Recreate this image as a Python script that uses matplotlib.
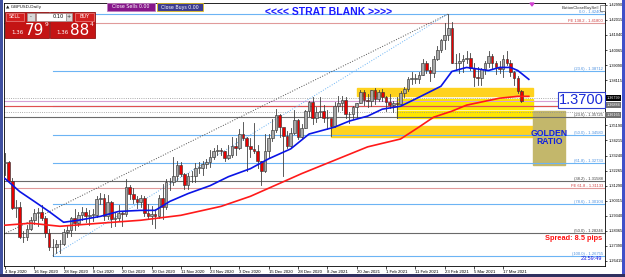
import matplotlib.pyplot as plt
from matplotlib.patches import Rectangle

W, H = 625, 277

# GBPUSD daily, 4 Sep 2020 .. 24 Mar 2021 (bar index 0..141)
closes = [1.3280, 1.3160, 1.2985, 1.2990, 1.2795, 1.2795, 1.2850, 1.2905, 1.2950, 1.2960,
          1.2920, 1.2820, 1.2730, 1.2730, 1.2750, 1.2750, 1.2830, 1.2840, 1.2920,
          1.2890, 1.2940, 1.2960, 1.2930, 1.2940, 1.2940, 1.3045, 1.3050, 1.2930, 1.3020,
          1.2910, 1.2920, 1.2950, 1.2945, 1.3120, 1.3075, 1.3045, 1.3020, 1.3050, 1.2955,
          1.2930, 1.2945,
          1.2930, 1.3050, 1.2990, 1.3150, 1.3150, 1.3190, 1.3265, 1.3205, 1.3135, 1.3190,
          1.3190, 1.3245, 1.3245, 1.3270, 1.3285, 1.3315, 1.3350, 1.3360, 1.3350, 1.3305,
          1.3330,
          1.3385, 1.3370, 1.3465, 1.3440, 1.3385, 1.3365, 1.3355, 1.3290, 1.3225, 1.3350,
          1.3440, 1.3490, 1.3585, 1.3510, 1.3450, 1.3385, 1.3470, 1.3555, 1.3445, 1.3500,
          1.3610, 1.3670,
          1.3570, 1.3605, 1.3610, 1.3565, 1.3565, 1.3515, 1.3645, 1.3665, 1.3685, 1.3590,
          1.3595, 1.3635, 1.3665, 1.3735, 1.3685, 1.3675, 1.3745, 1.3690, 1.3735, 1.3705,
          1.3670, 1.3650, 1.3665, 1.3660, 1.3730, 1.3755, 1.3820, 1.3820, 1.3820, 1.3845,
          1.3920, 1.3875, 1.3860, 1.3950, 1.4010, 1.4070, 1.4105, 1.4150, 1.3925, 1.3920,
          1.3935, 1.3950, 1.3955, 1.3890, 1.3835, 1.3825, 1.3885, 1.3925, 1.3965, 1.3925,
          1.3900, 1.3885, 1.3950, 1.3920, 1.3865, 1.3825, 1.3740, 1.3680]
highs = [1.3340, 1.3290, 1.3180, 1.3035, 1.3020, 1.2835, 1.2875, 1.2925, 1.2980, 1.2985,
         1.3005, 1.2935, 1.2850, 1.2785, 1.2775, 1.2775, 1.2850, 1.2865, 1.2925,
         1.2980, 1.2960, 1.2990, 1.2985, 1.2970, 1.2975, 1.3060, 1.3080, 1.3075, 1.3070,
         1.3030, 1.2960, 1.3005, 1.2965, 1.3175, 1.3135, 1.3115, 1.3060, 1.3070, 1.3065,
         1.3010, 1.2995,
         1.2975, 1.3070, 1.3140, 1.3175, 1.3180, 1.3312, 1.3290, 1.3280, 1.3210, 1.3210,
         1.3225, 1.3275, 1.3285, 1.3290, 1.3300, 1.3360, 1.3375, 1.3395, 1.3375, 1.3355,
         1.3395,
         1.3445, 1.3440, 1.3495, 1.3540, 1.3445, 1.3440, 1.3535, 1.3395, 1.3290, 1.3460,
         1.3460, 1.3560, 1.3625, 1.3595, 1.3500, 1.3485, 1.3500, 1.3620, 1.3560, 1.3525,
         1.3620, 1.3680,
         1.3705, 1.3640, 1.3705, 1.3650, 1.3620, 1.3560, 1.3670, 1.3710, 1.3710, 1.3705,
         1.3605, 1.3645, 1.3665, 1.3745, 1.3745, 1.3720, 1.3750, 1.3760, 1.3745, 1.3755,
         1.3710, 1.3720, 1.3680, 1.3700, 1.3740, 1.3770, 1.3835, 1.3865, 1.3850, 1.3865,
         1.3950, 1.3935, 1.3895, 1.3965, 1.4035, 1.4080, 1.4180, 1.4241, 1.4185, 1.3980,
         1.3990, 1.3975, 1.4000, 1.3990, 1.3920, 1.3895, 1.3890, 1.3935, 1.4000, 1.3980,
         1.3935, 1.3935, 1.3975, 1.4000, 1.3945, 1.3870, 1.3840, 1.3750]
lows = [1.3195, 1.3155, 1.2975, 1.2925, 1.2790, 1.2765, 1.2780, 1.2840, 1.2880, 1.2865,
        1.2905, 1.2795, 1.2710, 1.2676, 1.2690, 1.2690, 1.2745, 1.2795, 1.2805,
        1.2845, 1.2865, 1.2905, 1.2895, 1.2875, 1.2900, 1.2925, 1.3010, 1.2905, 1.2910,
        1.2860, 1.2865, 1.2900, 1.2865, 1.2930, 1.3040, 1.3015, 1.2985, 1.2990, 1.2935,
        1.2915, 1.2880,
        1.2855, 1.2920, 1.2915, 1.2980, 1.3100, 1.3130, 1.3165, 1.3190, 1.3110, 1.3110,
        1.3155, 1.3150, 1.3210, 1.3200, 1.3245, 1.3250, 1.3300, 1.3330, 1.3330, 1.3290,
        1.3300,
        1.3315, 1.3330, 1.3365, 1.3425, 1.3225, 1.3315, 1.3340, 1.3240, 1.3135, 1.3215,
        1.3310, 1.3420, 1.3475, 1.3445, 1.3190, 1.3375, 1.3380, 1.3465, 1.3430, 1.3435,
        1.3500, 1.3580,
        1.3530, 1.3540, 1.3575, 1.3540, 1.3495, 1.3450, 1.3510, 1.3615, 1.3620, 1.3570,
        1.3535, 1.3560, 1.3575, 1.3665, 1.3650, 1.3635, 1.3645, 1.3660, 1.3680, 1.3675,
        1.3610, 1.3630, 1.3605, 1.3565, 1.3660, 1.3700, 1.3740, 1.3790, 1.3795, 1.3795,
        1.3845, 1.3860, 1.3805, 1.3835, 1.3945, 1.3995, 1.4015, 1.4070, 1.3925, 1.3885,
        1.3855, 1.3865, 1.3920, 1.3880, 1.3775, 1.3780, 1.3780, 1.3850, 1.3900, 1.3890,
        1.3850, 1.3855, 1.3835, 1.3910, 1.3840, 1.3780, 1.3730, 1.3670]
first_open = 1.3275

# moving averages (bar index, price)
blue_ma_idx = [0, 4, 8, 12, 16, 20, 26, 31, 37, 41, 45, 50, 56, 61, 67, 72, 78, 83, 90, 94,
               99, 103, 108, 113, 119, 122, 126, 132, 135, 138, 140, 143]
blue_ma_val = [1.3175, 1.3091, 1.3027, 1.2962, 1.2892, 1.2905, 1.2930, 1.2962, 1.2969, 1.2969,
               1.3027, 1.3078, 1.3129, 1.3187, 1.3239, 1.3303, 1.3367, 1.3463, 1.3508, 1.3547,
               1.3579, 1.3624, 1.3643, 1.3701, 1.3772, 1.3868, 1.3894, 1.3874, 1.3894, 1.3894,
               1.3874, 1.3817]
red_ma_idx = [0, 7, 15, 26, 37, 48, 59, 67, 81, 99, 108, 113, 117, 122, 126, 131, 135, 140, 143]
red_ma_val = [1.2873, 1.2886, 1.2866, 1.2886, 1.2905, 1.2937, 1.2995, 1.3060, 1.3207, 1.3380,
              1.3431, 1.3508, 1.3572, 1.3611, 1.3650, 1.3675, 1.3695, 1.3707, 1.3707]

date_idx = list(range(0, 137, 8))
date_labels = ['4 Sep 2020', '16 Sep 2020', '28 Sep 2020', '8 Oct 2020', '20 Oct 2020',
               '30 Oct 2020', '11 Nov 2020', '23 Nov 2020', '3 Dec 2020', '15 Dec 2020',
               '28 Dec 2020', '8 Jan 2021', '20 Jan 2021', '1 Feb 2021', '11 Feb 2021',
               '23 Feb 2021', '5 Mar 2021', '17 Mar 2021']
price_ticks = [1.26415, 1.27390, 1.28365, 1.29340, 1.30315, 1.31290, 1.32265, 1.33240,
               1.34215, 1.35190, 1.38115, 1.39090, 1.40065, 1.41040, 1.42015, 1.42990]

# fibonacci / levels
fib_blue = [1.42405, 1.38712, 1.36427, 1.34580, 1.32733, 1.30104, 1.26755]
fib_blue_txt = ['0.0 - 1.42405', '(23.6) - 1.38712', '', '(50.0) - 1.34580',
                '(61.8) - 1.32733', '(78.6) - 1.30104', '(100.0) - 1.26755']
fib_dark = [1.35725, 1.31588, 1.28246]
fib_dark_txt = ['(23.6) - 1.35725', '(38.2) - 1.31588', '(50.0) - 1.28246']
fe_red = [1.41800, 1.36460, 1.31133]
fe_red_txt = ['FE 138.2 - 1.41800', '', 'FE 61.8 - 1.31133']

fig = plt.figure(figsize=(W / 100, H / 100), dpi=100)
ax = fig.add_axes([4 / W, 11 / H, 601 / W, 263 / H])
ax.set_xlim(-0.27, 163.8)
ax.set_ylim(1.2609, 1.4311)


def px(x, y):
    return x / W, 1 - y / H


def fbox(x0, y0, x1, y1, fc, ec='none', lw=0.6, z=5):
    r = Rectangle(px(x0, y1), (x1 - x0) / W, (y1 - y0) / H, transform=fig.transFigure,
                  facecolor=fc, edgecolor=ec, linewidth=lw, zorder=z)
    fig.add_artist(r)


def ftext(x, y, s, **kw):
    fig.text(*px(x, y), s, **kw)


# zones
ax.add_patch(Rectangle((96, 1.3707), 48.2, 0.0052, color='#ffd21e', zorder=1))
ax.add_patch(Rectangle((107, 1.3624), 37.2, 0.0064, color='#ffe600', zorder=1))
ax.add_patch(Rectangle((107, 1.3566), 37.2, 0.0045, color='#ffe600', zorder=1))
ax.add_patch(Rectangle((89, 1.3444), 55.2, 0.0071, color='#ffd21e', zorder=1))
ax.add_patch(Rectangle((144.2, 1.3264), 8.7, 0.0347, color='#c3b76b', zorder=1))

# horizontal lines
for v in fib_blue:
    ax.plot([13, 164], [v, v], color='#6cb4f4', lw=0.8, zorder=2)
for v in fib_dark:
    ax.axhline(v, color='#6a6a6a', lw=0.8, zorder=2)
for v in fe_red:
    ax.axhline(v, color='#e09a9a', lw=0.8, zorder=2)
ax.axhline(1.36460, color='#e05050', lw=0.8, zorder=2)
ax.axhline(1.3675, color='#d6a0d6', lw=0.8, zorder=2)
ax.axhline(1.3695, color='#909090', lw=0.6, ls=':', zorder=2)
ax.axhline(1.3605, color='#909090', lw=0.6, ls=':', zorder=2)

for v, t in zip(fib_blue, fib_blue_txt):
    ax.text(163.3, v, t, color='#4a90e0', fontsize=3.0, ha='right', va='bottom', zorder=6,
            family='Liberation Sans')
for v, t in zip(fib_dark, fib_dark_txt):
    ax.text(163.3, v, t, color='#404040', fontsize=3.0, ha='right', va='bottom', zorder=6,
            family='Liberation Sans')
for v, t in zip(fe_red, fe_red_txt):
    ax.text(163.3, v, t, color='#d04040', fontsize=3.0, ha='right', va='bottom', zorder=6,
            family='Liberation Sans')

# diagonal fib trendlines
ax.plot([13, 121], [1.26755, 1.42405], color='#6cb4f4', lw=0.7, ls=':', zorder=2)
ax.plot([-120, 121], [1.1408, 1.42405], color='#505050', lw=0.7, ls=':', zorder=2)

# candles
opens = [first_open] + closes[:-1]
for i, (o, h, l, c) in enumerate(zip(opens, highs, lows, closes)):
    ax.plot([i, i], [l, h], color='#404040', lw=0.6, zorder=3)
    fc = '#a8a8a8' if c >= o else '#e80000'
    ax.add_patch(Rectangle((i - 0.36, min(o, c)), 0.72, max(abs(c - o), 0.0003),
                           facecolor=fc, edgecolor='#383838', lw=0.45, zorder=4))

ax.plot(red_ma_idx, red_ma_val, color='#ff1a1a', lw=1.2, zorder=5)
ax.plot(blue_ma_idx, blue_ma_val, color='#0a14e6', lw=1.2, zorder=5)

# axes styling
ax.yaxis.tick_right()
ax.set_yticks(price_ticks)
ax.set_yticklabels(['%.5f' % p for p in price_ticks], family='Liberation Sans')
ax.tick_params(axis='y', labelsize=2.8, length=1.5, width=0.5, pad=1)
ax.set_xticks(date_idx)
ax.set_xticklabels(date_labels, ha='left', family='Liberation Sans')
ax.tick_params(axis='x', labelsize=3.1, length=2, width=0.5, pad=1)
for s in ax.spines.values():
    s.set_linewidth(0.6)

ax.text(148.6, 1.3440, 'GOLDEN\nRATIO', color='#1020e0', fontsize=6.2, fontweight='bold',
        ha='center', va='center', linespacing=0.95, zorder=7, family='Liberation Sans')

# window frame
fbox(0, 0, 3, 277, '#4050a0', z=1)
fbox(622, 0, 625, 277, '#4050c8', z=1)
fbox(0, 274, 625, 277, '#303060', z=1)

# title and info
ftext(329, 12, '<<<< STRAT BLANK >>>>', color='#1a1aff', fontsize=7.5, fontweight='bold',
      ha='center', va='center', family='Liberation Sans')
ftext(6, 7, '\u25b2 GBPUSD,Daily', color='#202020', fontsize=3.2, va='center')
ftext(599, 8, 'ButtonCloseBuySell', color='#303030', fontsize=3.1, ha='right', va='center',
      family='Liberation Sans')
fbox(600, 5, 605, 11, 'white', ec='#404040', lw=0.4, z=6)

# close buttons
fbox(107, 3, 155, 11, '#86168a', ec='#c080c0', z=6)
ftext(131, 7, 'Close Sells 0.00', color='white', fontsize=3.4, ha='center', va='center', zorder=7)
fbox(157, 3, 203, 11, '#3c3c90', ec='#e0c020', z=6)
ftext(180, 7, 'Close Buys 0.00', color='white', fontsize=3.4, ha='center', va='center', zorder=7)

# trade panel
fbox(5, 12, 49, 38, '#c41414', ec='#901010', z=6)
fbox(50, 12, 95, 38, '#c41414', ec='#901010', z=6)
fbox(6, 13, 24, 21, '#d42020', ec='#f0a0a0', lw=0.4, z=7)
ftext(15, 17, 'SELL', color='white', fontsize=3.6, ha='center', va='center', zorder=8)
fbox(75, 13, 94, 21, '#d42020', ec='#f0a0a0', lw=0.4, z=7)
ftext(84.5, 17, 'BUY', color='white', fontsize=3.6, ha='center', va='center', zorder=8)
fbox(27, 13, 35, 21, '#d8d8d8', ec='#909090', lw=0.4, z=7)
fbox(36, 13, 66, 21, 'white', ec='#909090', lw=0.4, z=7)
fbox(66, 13, 72, 21, '#d8d8d8', ec='#909090', lw=0.4, z=7)
ftext(31, 17, '-', color='#303030', fontsize=3.6, ha='center', va='center', zorder=8)
ftext(69, 17, '+', color='#303030', fontsize=3.6, ha='center', va='center', zorder=8)
ftext(64, 17, '0.10', color='black', fontsize=3.6, ha='right', va='center', zorder=8)
ftext(11, 34, '1.36', color='white', fontsize=4, ha='left', va='baseline', zorder=8)
ftext(25, 35, '79', color='white', fontsize=11, ha='left', va='baseline', zorder=8)
ftext(44.5, 26, '9', color='white', fontsize=4.2, ha='left', va='baseline', zorder=8)
ftext(56, 34, '1.36', color='white', fontsize=4, ha='left', va='baseline', zorder=8)
ftext(70, 35, '88', color='white', fontsize=11, ha='left', va='baseline', zorder=8)
ftext(89.5, 26, '4', color='white', fontsize=4.2, ha='left', va='baseline', zorder=8)

# price boxes on axis
fbox(605, 95, 621, 101, 'black', z=6)
ftext(620.5, 98, '1.36799', color='white', fontsize=2.7, ha='right', va='center', zorder=7,
      family='Liberation Sans')
fbox(605, 102, 621, 108, '#707070', z=6)
ftext(620.5, 105, '1.36884', color='white', fontsize=2.7, ha='right', va='center', zorder=7,
      family='Liberation Sans')
fbox(605, 112, 621, 118, '#707070', z=6)
ftext(620.5, 115, '1.36165', color='white', fontsize=2.7, ha='right', va='center', zorder=7,
      family='Liberation Sans')

# big level text
ftext(581.5, 100, '1.3700', color='#1a2ad8', fontsize=10.5, ha='center', va='center', zorder=9,
      family='Liberation Sans',
      bbox=dict(boxstyle='square,pad=0.06', fc='white', ec='#3040d0', lw=0.8))

ftext(574, 238, 'Spread: 8.5 pips', color='#ff1010', fontsize=5.3, fontweight='bold',
      ha='center', va='center', family='Liberation Sans', zorder=9)
ftext(602, 258, '23:59:49', color='#1010e0', fontsize=4.0, ha='right', va='center', zorder=9,
      family='Liberation Sans')
fig.add_artist(plt.Polygon([px(530, 3), px(534, 3), px(532, 6)], closed=True,
                           transform=fig.transFigure, color='#d040d0'))

fig.savefig('out.png', dpi=100)
